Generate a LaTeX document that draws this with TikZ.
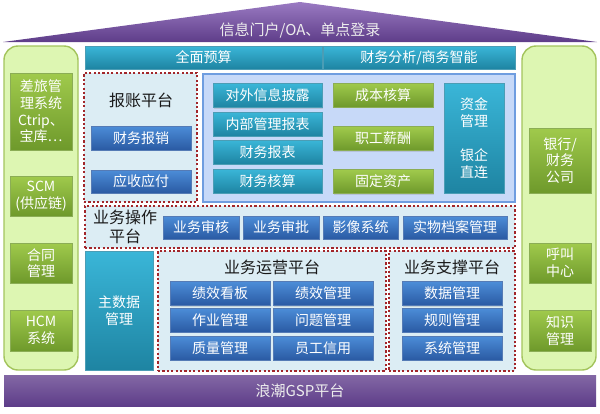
\documentclass[tikz,border=0pt]{standalone}
\usepackage{fontspec}
\setmainfont{Noto Sans CJK SC}
\usepackage{tikz}
\usetikzlibrary{shadows}
\usepackage{xcolor}
\definecolor{roofTop}{HTML}{9A7AC2}
\definecolor{roofBot}{HTML}{5E3D89}
\definecolor{panelGreen}{HTML}{DDF6B2}
\definecolor{panelEdge}{HTML}{A3C45C}
\definecolor{greenTop}{HTML}{A0CA4C}
\definecolor{greenBot}{HTML}{6E992B}
\definecolor{tealTop}{HTML}{3AB6D8}
\definecolor{tealBot}{HTML}{1E84A2}
\definecolor{blueTop}{HTML}{4C8DD8}
\definecolor{blueBot}{HTML}{2A5AA3}
\definecolor{platFill}{HTML}{DCEDF4}
\definecolor{platEdge}{HTML}{A2262A}
\definecolor{lightFill}{HTML}{C7D9F8}
\definecolor{lightEdge}{HTML}{6F9DE0}
\tikzset{
    sidepanel/.style={
        draw=panelEdge,
        fill=panelGreen,
        line width=0.7pt,
        rounded corners=7pt
    },
    boxbase/.style={
        inner sep=1pt,
        align=center,
        text=white,
        font=\fontsize{7}{8.3}\selectfont,
        drop shadow={opacity=0.25,shadow xshift=0.6pt,shadow yshift=-0.6pt}
    },
    greenbox/.style={
        boxbase,
        top color=greenTop,
        bottom color=greenBot,
        draw=greenBot!80!white,
        line width=0.3pt
    },
    tealbox/.style={
        boxbase,
        top color=tealTop,
        bottom color=tealBot,
        draw=tealBot!80!white,
        line width=0.3pt
    },
    bluebox/.style={
        boxbase,
        top color=blueTop,
        bottom color=blueBot,
        draw=blueBot!80!white,
        line width=0.3pt
    },
    platform/.style={
        fill=platFill,
        draw=platEdge,
        line width=1.1pt,
        dash pattern=on 1.1pt off 1.1pt
    },
    lightpanel/.style={
        fill=lightFill,
        draw=lightEdge,
        line width=0.6pt
    },
    purplebar/.style={
        top color=roofTop!85!black,
        bottom color=roofBot,
        text=white!93!black,
        font=\fontsize{7.5}{9}\selectfont
    },
    title/.style={
        align=center,
        text=black!90,
        font=\fontsize{8}{9.5}\selectfont
    }
}

\begin{document}
\begin{tikzpicture}[x=0.5pt,y=-0.5pt]
    \useasboundingbox (0,0) rectangle (600,413);

    % roof
    \shade[top color=roofTop, bottom color=roofBot] (3,42) -- (300,2) -- (597,42) -- cycle;
    \node[text=white!93!black, font=\fontsize{7.5}{9}\selectfont] (portal) at (300,30) {信息门户/OA、单点登录};

    % side panels
    \node[sidepanel, minimum width=37pt, minimum height=162pt] (leftpanel) at (41,208) {};
    \node[sidepanel, minimum width=37pt, minimum height=162pt] (rightpanel) at (559,208) {};

    \foreach \n/\y/\h/\t in {
        travel/111.5/38.5/{差旅管\\理系统\\Ctrip、\\宝库…},
        scm/196/20/{SCM\\(供应链)},
        contract/263/20/{合同\\管理},
        hcm/330.5/20.5/{HCM\\系统}}
    {
      \node[greenbox, minimum width=31pt, minimum height=\h pt] (\n) at (41,\y) {\t};
    }

    \foreach \n/\y/\h/\t in {
        bank/160.5/32.5/{银行/\\财务\\公司},
        callcenter/263/20/{呼叫\\中心},
        knowledge/330.5/20.5/{知识\\管理}}
    {
      \node[greenbox, minimum width=31pt, minimum height=\h pt] (\n) at (560,\y) {\t};
    }

    % bottom bar
    \node[purplebar, minimum width=296pt, minimum height=15.5pt] (gsp) at (300,390.5) {浪潮GSP平台};

    % top bars
    \node[tealbox, minimum width=118.5pt, minimum height=11.5pt] (budget) at (203.5,57.5) {全面预算};
    \node[tealbox, minimum width=96pt, minimum height=11.5pt] (analysis) at (419,57.5) {财务分析/商务智能};

    % reimbursement platform
    \node[platform, minimum width=56.5pt, minimum height=64.5pt] (reimb) at (140.5,137.5) {};
    \node[title] (reimbtitle) at (141,100) {报账平台};
    \node[bluebox, minimum width=50pt, minimum height=12pt] (expense) at (141,138) {财务报销};
    \node[bluebox, minimum width=50pt, minimum height=11.5pt] (arap) at (141,181.5) {应收应付};

    % finance panel
    \node[lightpanel, minimum width=156pt, minimum height=64pt] (finance) at (359,138) {};
    \foreach \n/\y/\t in {
        disclose/95.5/对外信息披露,
        internal/124/内部管理报表,
        statement/152/财务报表,
        ledger/181/财务核算}
    {
      \node[tealbox, minimum width=54.5pt, minimum height=12pt] (\n) at (267.5,\y) {\t};
    }
    \foreach \n/\y/\t in {
        cost/95/成本核算,
        salary/138.5/职工薪酬,
        asset/181.5/固定资产}
    {
      \node[greenbox, minimum width=50pt, minimum height=12pt] (\n) at (383,\y) {\t};
    }
    \node[tealbox, minimum width=30pt, minimum height=55pt] (fund) at (474,138) {资金\\管理\\[9pt]银企\\直连};

    % operation platform
    \node[platform, minimum width=215pt, minimum height=21pt] (operation) at (300,227) {};
    \node[title] (optitle) at (125,227) {业务操作\\平台};
    \foreach \n/\x/\w/\t in {
        review/201/38/业务审核,
        approve/281/38/业务审批,
        image/360.5/37.5/影像系统,
        archive/455/52/实物档案管理}
    {
      \node[bluebox, minimum width=\w pt, minimum height=11.5pt] (\n) at (\x,227.5) {\t};
    }

    % master data
    \node[tealbox, minimum width=34pt, minimum height=59.5pt] (master) at (119,310.5) {主数据\\管理};

    % business operation platform
    \node[platform, minimum width=114pt, minimum height=60pt] (running) at (272,311) {};
    \node[title] (runtitle) at (272,267) {业务运营平台};
    \foreach \n/\x/\y/\t in {
        board/220/293.5/绩效看板,
        perf/323/293.5/绩效管理,
        job/220/320/作业管理,
        issue/323/320/问题管理,
        quality/220/348/质量管理,
        credit/323/348/员工信用}
    {
      \node[bluebox, minimum width=50pt, minimum height=12pt] (\n) at (\x,\y) {\t};
    }

    % support platform
    \node[platform, minimum width=63pt, minimum height=60pt] (support) at (452,311) {};
    \node[title] (suptitle) at (452,267) {业务支撑平台};
    \foreach \n/\y/\t in {
        data/293.5/数据管理,
        rule/320/规则管理,
        system/348/系统管理}
    {
      \node[bluebox, minimum width=50pt, minimum height=12pt] (\n) at (452,\y) {\t};
    }

\end{tikzpicture}
\end{document}
